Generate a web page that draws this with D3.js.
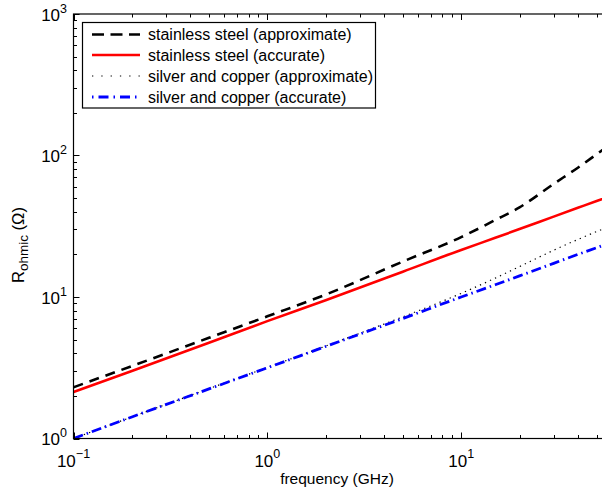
<!DOCTYPE html>
<html>
<head>
<meta charset="utf-8">
<script src="https://cdn.jsdelivr.net/npm/d3@7"></script>
<style>
  html, body { margin: 0; padding: 0; background: #fff; }
  svg { display: block; }
  text { font-family: "Liberation Sans", Arial, Helvetica, sans-serif; fill: #000; }
</style>
</head>
<body>
<svg id="chart" width="602" height="491"></svg>
<script>
// ---- data ----
const freq = [0.1, 0.2, 0.5, 1, 2, 5, 10, 15, 20, 30, 40, 50, 60];
const steelApprox  = [2.3, 3.25, 5.15, 7.3, 10.4, 17.8, 26.5, 35, 43, 63, 82, 102, 122];
const steelAccurate = [2.13, 3.0, 4.75, 6.75, 9.5, 15.1, 21.5, 26.2, 30.2, 37, 42.7, 47.7, 52];
const silverApprox = [1.0, 1.42, 2.25, 3.18, 4.5, 7.25, 10.6, 13.6, 16.4, 21.4, 25.5, 29, 32];
const silverAccurate = [1.0, 1.42, 2.24, 3.16, 4.47, 7.05, 10.0, 12.2, 14.1, 17.3, 20, 22.3, 24.5];
const seriesNames = [
  "stainless steel (approximate)",
  "stainless steel (accurate)",
  "silver and copper (approximate)",
  "silver and copper (accurate)"
];
const xTickExp = [-1, 0, 1];
const yTickExp = [0, 1, 2, 3];
const xLabel = "frequency (GHz)";

// ---- layout ----
const svg = d3.select("#chart");
const L = 73.5, T = 14, R = 612, B = 438.5;

const x = d3.scaleLog().domain([0.1, 60]).range([L, R]);
const y = d3.scaleLog().domain([1, 1000]).range([B, T]);

const styles = [
  { color: "#000", width: 2.6, dash: "10,7", legDash: "12,6.5" },
  { color: "#ff0000", width: 2.6, dash: null, legDash: null },
  { color: "#000", width: 1.2, dash: "1.3,4.2", legDash: "1.3,8" },
  { color: "#0000ff", width: 2.8, dash: "10,4,1.5,4", legDash: "1.5,5,10,5" }
];
const series = [steelApprox, steelAccurate, silverApprox, silverAccurate];

// clip
svg.append("defs").append("clipPath").attr("id", "clip")
  .append("rect").attr("x", L).attr("y", T).attr("width", R - L).attr("height", B - T);

const line = d3.line()
  .x((d, i) => x(freq[i]))
  .y(d => y(d))
  .curve(d3.curveMonotoneX);

const g = svg.append("g").attr("clip-path", "url(#clip)");
series.forEach((s, k) => {
  const p = g.append("path")
    .attr("d", line(s))
    .attr("fill", "none")
    .attr("stroke", styles[k].color)
    .attr("stroke-width", styles[k].width);
  if (styles[k].dash) p.attr("stroke-dasharray", styles[k].dash);
});

// ---- axes (MATLAB-style, ticks inside, box) ----
const ax = svg.append("g").attr("stroke", "#000").attr("fill", "none");
ax.append("rect").attr("x", L).attr("y", T).attr("width", R - L).attr("height", B - T)
  .attr("stroke-width", 1.2);

function minorTicks(domain) {
  const out = [];
  const lo = Math.floor(Math.log10(domain[0])), hi = Math.ceil(Math.log10(domain[1]));
  for (let e = lo; e <= hi; e++) for (let m = 1; m <= 9; m++) {
    const v = m * Math.pow(10, e);
    if (v >= domain[0] - 1e-12 && v <= domain[1] + 1e-12) out.push({ v, major: m === 1 });
  }
  return out;
}
minorTicks(x.domain()).forEach(t => {
  const len = t.major ? 6 : 3.5, px = Math.round(x(t.v)) + 0.5;
  ax.append("line").attr("x1", px).attr("x2", px).attr("y1", B).attr("y2", B - len).attr("stroke-width", 1);
  ax.append("line").attr("x1", px).attr("x2", px).attr("y1", T).attr("y2", T + len).attr("stroke-width", 1);
});
minorTicks(y.domain()).forEach(t => {
  const len = t.major ? 6 : 3.5, py = Math.round(y(t.v)) + 0.5;
  ax.append("line").attr("x1", L).attr("x2", L + len).attr("y1", py).attr("y2", py).attr("stroke-width", 1);
  ax.append("line").attr("x1", R).attr("x2", R - len).attr("y1", py).attr("y2", py).attr("stroke-width", 1);
});

// tick labels
xTickExp.forEach(e => {
  const t = svg.append("text").attr("x", x(Math.pow(10, e))).attr("y", 467)
    .attr("text-anchor", "middle").attr("font-size", 17);
  t.append("tspan").text("10");
  t.append("tspan").attr("dy", -9).attr("font-size", 12.5).text(String(e).replace("-", "\u2212"));
});
yTickExp.forEach(e => {
  const t = svg.append("text").attr("x", 67).attr("y", y(Math.pow(10, e)) + 6.5)
    .attr("text-anchor", "end").attr("font-size", 17);
  t.append("tspan").text("10");
  t.append("tspan").attr("dy", -8).attr("font-size", 12.5).text(String(e));
});

// axis labels
svg.append("text").attr("x", 337).attr("y", 484).attr("text-anchor", "middle")
  .attr("font-size", 15.5).text(xLabel);
const yl = svg.append("text").attr("transform", "translate(24,245) rotate(-90)")
  .attr("text-anchor", "middle").attr("font-size", 16.5);
yl.append("tspan").text("R");
yl.append("tspan").attr("dy", 4).attr("font-size", 13.5).text("ohmic");
yl.append("tspan").attr("dy", -4).text(" (\u03A9)");

// ---- legend ----
const lg = svg.append("g");
lg.append("rect").attr("x", 82.5).attr("y", 22.5).attr("width", 293).attr("height", 85.5)
  .attr("fill", "#fff").attr("stroke", "#000").attr("stroke-width", 1.2);
const rowY = [34.5, 55, 76, 97];
seriesNames.forEach((name, k) => {
  const l = lg.append("line").attr("x1", 92).attr("x2", 140).attr("y1", rowY[k]).attr("y2", rowY[k])
    .attr("stroke", styles[k].color).attr("stroke-width", styles[k].width);
  if (styles[k].legDash) l.attr("stroke-dasharray", styles[k].legDash);
  lg.append("text").attr("x", 148).attr("y", rowY[k] + 5.5).attr("font-size", 16).text(name);
});
</script>
</body>
</html>
